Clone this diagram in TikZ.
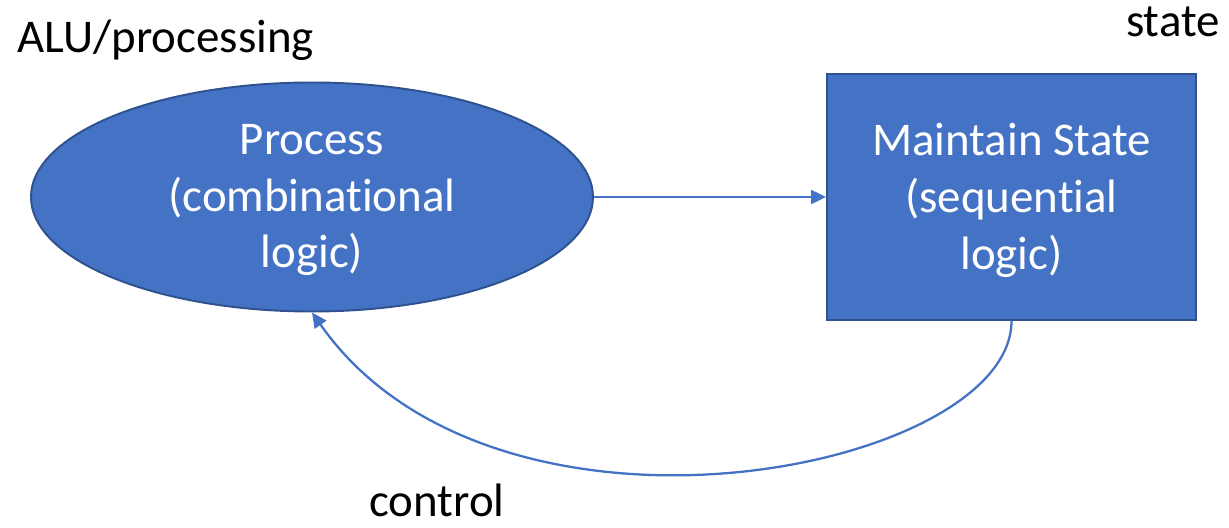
\documentclass[tikz,border=0pt]{standalone}
\usepackage{fontspec}
\setmainfont{Carlito}[Ligatures=NoCommon]
\usepackage{tikz}
\usetikzlibrary{shapes.geometric, arrows.meta}
\definecolor{officeblue}{HTML}{4472C4}
\definecolor{officeedge}{HTML}{2F528F}
\newcommand{\bigtext}{\fontsize{26.7}{32.4}\selectfont}

\begin{document}
\begin{tikzpicture}[
    proc/.style={ellipse, draw=officeedge, fill=officeblue, line width=1.1pt,
        minimum width=11.24cm, minimum height=4.58cm, inner sep=0pt},
    store/.style={rectangle, draw=officeedge, fill=officeblue, line width=1.1pt,
        minimum width=7.38cm, minimum height=4.92cm, inner sep=0pt},
    inside/.style={text=white, align=center, font=\bigtext, inner sep=0pt},
    lbl/.style={text=black, font=\bigtext, inner sep=0pt},
    >={Triangle[length=0.3cm, width=0.28cm]},
    every edge/.style={draw=officeblue, line width=1.3pt}
]
    \useasboundingbox (0,0) rectangle (24.58,10.56);
    \node[proc](p)                  at (6.24,6.62) {};
    \node[store](s)                 at (20.23,6.62) {};
    \node[inside](ptext)            at (6.24,6.56) {Process\\(combinational\\logic)};
    \node[inside](stext)            at (20.23,6.56) {Maintain State\\(sequential\\logic)};
    \node[lbl, anchor=base west](alu)   at (0.34,9.50) {ALU/processing};
    \node[lbl, anchor=base east](st)    at (24.40,9.82) {state};
    \node[lbl, anchor=base west](ctl)   at (7.38,0.22) {control};
    % Transitions
    \path
        (p)
            edge [->] (s)
        (s.south)
            edge [->, out=-90, in=-55, out distance=3cm, in distance=6.4cm] (p.south)
        ;
\end{tikzpicture}
\end{document}
